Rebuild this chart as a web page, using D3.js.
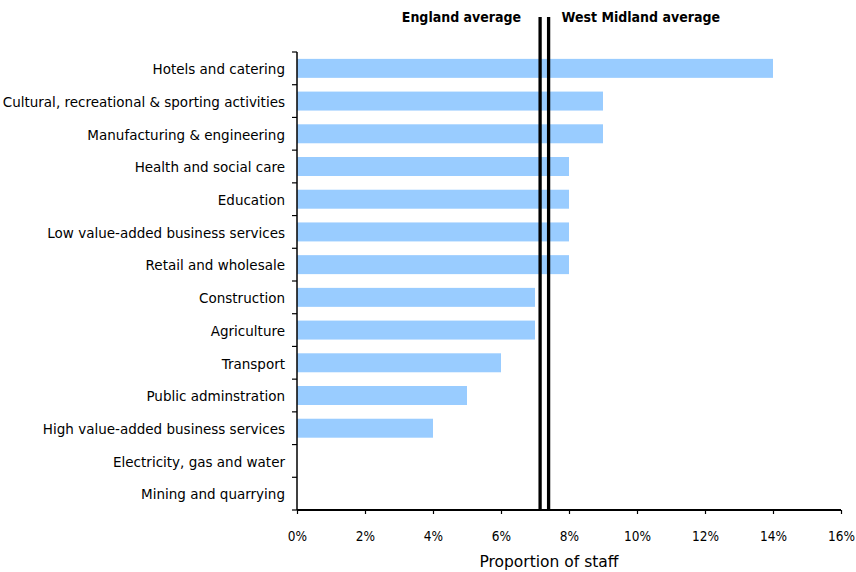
<!DOCTYPE html>
<html>
<head>
<meta charset="utf-8">
<script src="https://cdn.jsdelivr.net/npm/d3@7"></script>
<style>
  html, body { margin: 0; padding: 0; background: #fff; }
  svg text { font-family: "DejaVu Sans", sans-serif; fill: #000; }
  svg text.narrow { font-family: "DejaVu Sans Condensed", "DejaVu Sans", sans-serif; }
</style>
</head>
<body>
<svg id="chart" width="856" height="572"></svg>
<script>
// Sectors, top to bottom
const categories = [
  "Hotels and catering",
  "Cultural, recreational & sporting activities",
  "Manufacturing & engineering",
  "Health and social care",
  "Education",
  "Low value-added business services",
  "Retail and wholesale",
  "Construction",
  "Agriculture",
  "Transport",
  "Public adminstration",
  "High value-added business services",
  "Electricity, gas and water",
  "Mining and quarrying"
];
// Proportion of staff (%)
const values = [14, 9, 9, 8, 8, 8, 8, 7, 7, 6, 5, 4, 0, 0];
// Reference lines (%)
const averageNames = ["England average", "West Midland average"];
const averageValues = [7.15, 7.4];
const xTicks = [0, 2, 4, 6, 8, 10, 12, 14, 16];
const xTitle = "Proportion of staff";

const svg = d3.select("#chart");
const plotLeft = 297, plotRight = 841, plotTop = 52, plotBottom = 510;

const x = d3.scaleLinear().domain([0, 16]).range([plotLeft, plotRight]);
const y = d3.scaleBand().domain(categories).range([plotTop, plotBottom]).paddingInner(0.42).paddingOuter(0.21);

// bars
svg.append("g").selectAll("rect")
  .data(categories.map((c, i) => ({ c, v: values[i] })))
  .join("rect")
  .attr("x", x(0))
  .attr("y", d => y(d.c))
  .attr("width", d => x(d.v) - x(0))
  .attr("height", y.bandwidth())
  .attr("fill", "#99CCFF");

// category axis
const yAxis = svg.append("g").attr("transform", `translate(${plotLeft},0)`);
yAxis.append("line").attr("x1", 0).attr("x2", 0).attr("y1", plotTop).attr("y2", plotBottom)
  .attr("stroke", "#000").attr("stroke-width", 1.5);
const bandEdges = d3.range(categories.length + 1).map(i => plotTop + i * (plotBottom - plotTop) / categories.length);
yAxis.selectAll("line.tick").data(bandEdges).join("line").attr("class", "tick")
  .attr("x1", -5).attr("x2", 0).attr("y1", d => d).attr("y2", d => d)
  .attr("stroke", "#000").attr("stroke-width", 1.2);
yAxis.selectAll("text").data(categories).join("text")
  .attr("x", -12)
  .attr("y", d => y(d) + y.bandwidth() / 2 + 1)
  .attr("dy", "0.35em")
  .attr("text-anchor", "end")
  .attr("font-size", 13.5)
  .text(d => d);

// value axis
const xAxis = d3.axisBottom(x).tickValues(xTicks).tickFormat(d => d + "%").tickSize(4).tickPadding(17);
const xg = svg.append("g").attr("transform", `translate(0,${plotBottom})`).call(xAxis);
xg.select(".domain").attr("stroke-width", 2).attr("d", `M${plotLeft},0H${plotRight}`);
xg.selectAll(".tick line").attr("stroke-width", 1.2);
xg.selectAll(".tick text").attr("class", "narrow").attr("font-size", 13.5);

svg.append("text")
  .attr("x", 549).attr("y", 567)
  .attr("text-anchor", "middle")
  .attr("font-size", 15.5)
  .text(xTitle);

// average lines
svg.append("g").selectAll("line")
  .data(averageValues)
  .join("line")
  .attr("x1", d => x(d)).attr("x2", d => x(d))
  .attr("y1", 17).attr("y2", plotBottom)
  .attr("stroke", "#000").attr("stroke-width", 3.3);

svg.append("text")
  .attr("class", "narrow")
  .attr("x", x(averageValues[0]) - 19).attr("y", 22)
  .attr("text-anchor", "end")
  .attr("font-size", 14).attr("font-weight", "bold")
  .text(averageNames[0]);
svg.append("text")
  .attr("class", "narrow")
  .attr("x", x(averageValues[1]) + 13).attr("y", 22)
  .attr("text-anchor", "start")
  .attr("font-size", 14).attr("font-weight", "bold")
  .text(averageNames[1]);
</script>
</body>
</html>
